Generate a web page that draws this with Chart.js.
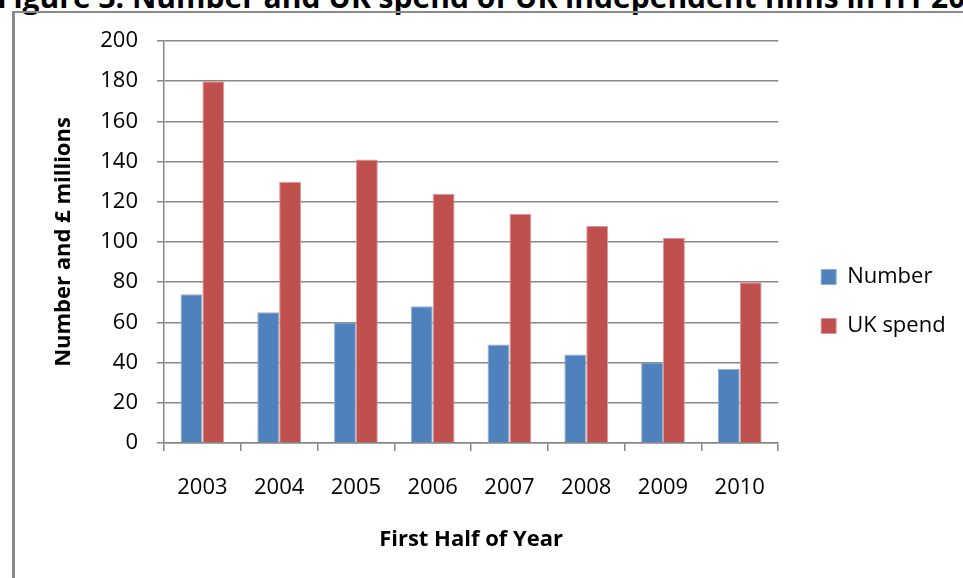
<!DOCTYPE html>
<html>
<head>
<meta charset="utf-8">
<script src="https://cdn.jsdelivr.net/npm/chart.js@4/dist/chart.umd.min.js"></script>
<style>
  html, body { margin: 0; padding: 0; background: #fff; }
  #wrap { position: relative; width: 963px; height: 578px; overflow: hidden; }
  #heading {
    position: absolute; left: -3px; top: -18px; white-space: nowrap;
    font: bold 30px/30px "Open Sans", sans-serif; color: #000;
  }
  #frame {
    position: absolute; left: 12px; top: 11px; right: -5px; bottom: -5px;
    border-left: 3px solid #8a8a8a; border-top: 2px solid #8a8a8a;
  }
  #myChart { position: absolute; left: 0; top: 0; }
</style>
</head>
<body>
<div id="wrap">
  <div id="heading">Figure 3: Number and UK spend of UK independent films in H1 2003-2010</div>
  <div id="frame"></div>
  <canvas id="myChart" width="963" height="578"></canvas>
</div>
<script>
const years = ['2003', '2004', '2005', '2006', '2007', '2008', '2009', '2010'];
const numberFilms = [74, 65, 60, 68, 49, 44, 40, 37];
const ukSpend = [180, 130, 141, 124, 114, 108, 102, 80];

const axisGrey = '#888888';
const labelFont = { family: 'Open Sans', size: 22 };
const titleFont = { family: 'Open Sans', size: 22, weight: 'bold' };

const ctx = document.getElementById('myChart').getContext('2d');

new Chart(ctx, {
    type: 'bar',
    data: {
        labels: years,
        datasets: [{
            label: 'Number',
            data: numberFilms,
            backgroundColor: '#4F81BD',
            borderColor: '#93b0d6',
            borderWidth: 1,
            xAxisID: 'x',
            yAxisID: 'y'
        }, {
            label: 'UK spend',
            data: ukSpend,
            backgroundColor: '#C0504D',
            borderColor: '#dc9896',
            borderWidth: 1,
            xAxisID: 'x',
            yAxisID: 'y'
        }]
    },
    options: {
        responsive: false,
        animation: false,
        layout: {
            padding: { left: 40, top: 41, right: 18, bottom: 16 }
        },
        datasets: {
            bar: {
                categoryPercentage: 0.57,
                barPercentage: 1.0
            }
        },
        plugins: {
            legend: {
                position: 'right',
                labels: {
                    boxWidth: 15,
                    boxHeight: 15,
                    padding: 27,
                    color: '#000',
                    font: labelFont
                }
            },
            tooltip: { enabled: false }
        },
        scales: {
            x: {
                grid: {
                    drawOnChartArea: false,
                    tickLength: 8,
                    color: axisGrey,
                    lineWidth: 1.5
                },
                border: { color: axisGrey, width: 1.5 },
                ticks: { padding: 24, color: '#000', font: labelFont },
                title: {
                    display: true,
                    text: 'First Half of Year',
                    color: '#000',
                    font: titleFont,
                    padding: { top: 0, bottom: 9 }
                },
                afterFit(scale) { scale.height = 119; }
            },
            y: {
                min: 0,
                max: 200,
                grid: {
                    color: axisGrey,
                    lineWidth: 1.5,
                    tickLength: 7
                },
                border: { color: axisGrey, width: 1.5 },
                ticks: { stepSize: 20, padding: 19, color: '#000', font: labelFont },
                title: {
                    display: true,
                    text: 'Number and £ millions',
                    color: '#000',
                    font: titleFont,
                    padding: { top: 11, bottom: 0 }
                },
                afterFit(scale) { scale.width = 124; }
            },
            // empty strip between the plot and the legend
            gap: {
                type: 'linear',
                position: 'right',
                grid: { display: false },
                border: { display: false },
                ticks: { display: false },
                afterFit(scale) { scale.width = 16; }
            }
        }
    }
});
</script>
</body>
</html>
